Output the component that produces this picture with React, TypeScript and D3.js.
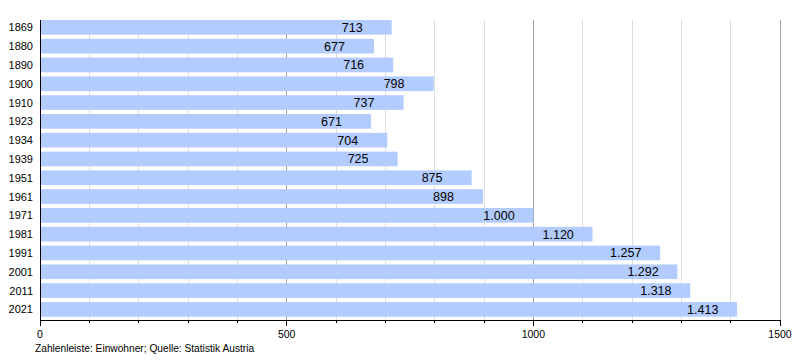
import React from "react";
import * as d3 from "d3";

const years = ["1869","1880","1890","1900","1910","1923","1934","1939","1951","1961","1971","1981","1991","2001","2011","2021"];
const population = [713,677,716,798,737,671,704,725,875,898,1000,1120,1257,1292,1318,1413];
const majorTicks = [0, 500, 1000, 1500];
const minorTicks = d3.range(0, 1501, 100);
const footer = "Zahlenleiste: Einwohner; Quelle: Statistik Austria";

const W = 800, H = 360;
const x = d3.scaleLinear().domain([0, 1500]).range([40, 780]);
const y = d3.scaleBand<string>().domain(years).range([20, 316.7]).paddingInner(0.22).paddingOuter(0);
const fmt = (v: number) => d3.format(",")(v).replace(/,/g, ".");
const font = "Liberation Sans, Arial, sans-serif";

export default function App() {
  return (
    <svg width={W} height={H} style={{ position: "absolute", left: 0, top: 0 }} fontFamily={font}>
      <rect width={W} height={H} fill="#fff" />
      {minorTicks.filter(t => t % 500 !== 0).map(t => (
        <line key={"g" + t} x1={x(t)} x2={x(t)} y1={20} y2={320} stroke="#dddddd" strokeWidth={1} shapeRendering="crispEdges" />
      ))}
      {majorTicks.filter(t => t !== 0).map(t => (
        <line key={"G" + t} x1={x(t)} x2={x(t)} y1={20} y2={320} stroke="#a0a0a0" strokeWidth={1} shapeRendering="crispEdges" />
      ))}
      {years.map((yr, i) => (
        <g key={yr}>
          <rect x={x(0)} y={y(yr)!} width={x(population[i]) - x(0)} height={y.bandwidth()} fill="#b3ccff" />
          <text x={x(population[i]) - 50} y={y(yr)! + y.bandwidth() / 2 + 4.5} fontSize={12.5} fill="#000">{fmt(population[i])}</text>
          <text x={33} y={y(yr)! + y.bandwidth() / 2 + 4} fontSize={11} textAnchor="end" fill="#000">{yr}</text>
        </g>
      ))}
      <line x1={x(0)} x2={x(0)} y1={20} y2={320} stroke="#000" strokeWidth={1} shapeRendering="crispEdges" />
      <line x1={x(0)} x2={x(1500)} y1={320} y2={320} stroke="#000" strokeWidth={1} shapeRendering="crispEdges" />
      {minorTicks.map(t => (
        <line key={"t" + t} x1={x(t)} x2={x(t)} y1={320} y2={t % 500 === 0 ? 326 : 323} stroke="#000" strokeWidth={1} shapeRendering="crispEdges" />
      ))}
      {majorTicks.map(t => (
        <text key={"l" + t} x={x(t)} y={338} fontSize={10.5} textAnchor="middle" fill="#000">{t}</text>
      ))}
      <text x={35} y={352} fontSize={10.2} fill="#000">{footer}</text>
    </svg>
  );
}
